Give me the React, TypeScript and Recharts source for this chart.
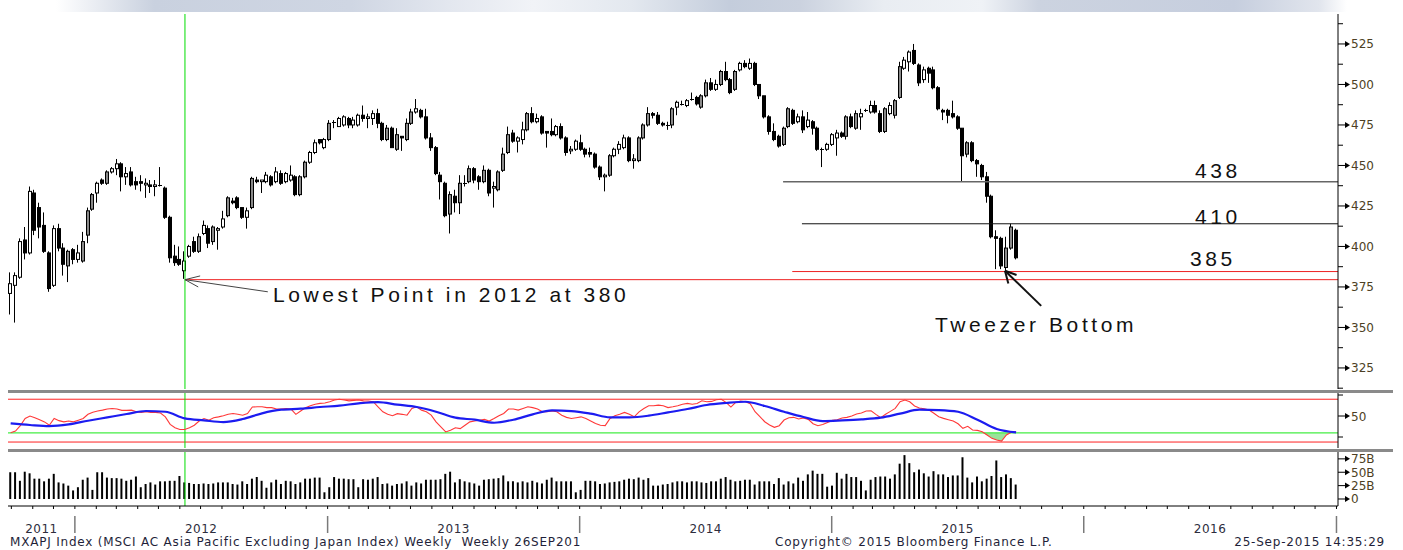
import { Area, Bar, ComposedChart, Line, ReferenceLine, XAxis, YAxis } from "recharts";

// weekly bars, first one is the week ending 30 Sep 2011
const WEEK = 7 * 24 * 3600 * 1000;
const FIRST_WEEK = Date.UTC(2011, 8, 30);
const toIdx = (y: number, m: number, d = 1) => (Date.UTC(y, m, d) - FIRST_WEEK) / WEEK;

const opens = [
  371, 376, 381, 404, 396, 433, 424, 413, 396, 376, 411, 399, 388, 398, 392, 391, 407, 423, 433, 441,
  439, 446, 448, 451, 443, 446, 440, 440, 438, 438, 437, 438, 436, 418, 394, 392, 385, 394, 403, 397,
  408, 411, 403, 410, 412, 419, 428, 430, 424, 418, 424, 441, 440, 440, 443, 440, 445, 440, 441, 443,
  432, 443, 452, 458, 466, 461, 466, 477, 474, 475, 479, 475, 475, 481, 479, 479, 482, 476, 466, 473,
  460, 468, 466, 476, 483, 484, 480, 467, 461, 444, 439, 420, 431, 427, 439, 440, 448, 443, 440, 447,
  436, 435, 447, 458, 470, 465, 466, 472, 482, 477, 480, 471, 471, 469, 474, 467, 459, 460, 464, 460,
  458, 457, 449, 443, 444, 456, 460, 461, 467, 453, 453, 467, 475, 482, 481, 476, 475, 475, 486, 488,
  487, 491, 492, 486, 493, 501, 497, 500, 508, 503, 497, 509, 513, 510, 513, 500, 493, 480, 471, 468,
  463, 474, 484, 477, 480, 474, 477, 473, 460, 460, 463, 467, 470, 468, 480, 473, 480, 484, 483, 487,
  482, 471, 482, 481, 492, 510, 514, 521, 512, 503, 510, 509, 498, 484, 484, 482, 480, 473, 457, 464,
  453, 450, 443, 431, 406, 405, 387, 399, 410,
];
const highs = [
  384, 384, 405, 412, 437, 435, 427, 421, 397, 413, 414, 402, 398, 399, 401, 409, 424, 433, 440, 442,
  447, 449, 454, 452, 449, 449, 443, 444, 442, 441, 441, 449, 437, 419, 401, 400, 397, 401, 406, 408,
  416, 413, 413, 412, 422, 431, 430, 431, 424, 424, 443, 443, 441, 446, 444, 449, 447, 446, 450, 444,
  444, 453, 459, 466, 466, 467, 478, 478, 480, 481, 480, 480, 482, 487, 482, 484, 485, 477, 475, 474,
  473, 468, 479, 485, 491, 485, 485, 470, 462, 446, 440, 434, 435, 444, 444, 450, 449, 444, 450, 448,
  440, 447, 461, 474, 472, 468, 477, 483, 486, 482, 481, 471, 479, 475, 476, 468, 462, 466, 469, 461,
  461, 458, 450, 445, 457, 461, 465, 469, 468, 457, 468, 476, 486, 483, 483, 477, 477, 486, 490, 490,
  491, 495, 493, 494, 503, 504, 503, 509, 514, 504, 509, 514, 515, 516, 514, 500, 493, 481, 476, 469,
  474, 486, 485, 482, 484, 483, 478, 474, 461, 464, 470, 472, 471, 481, 482, 484, 485, 485, 490, 490,
  484, 486, 489, 491, 514, 517, 521, 525, 513, 511, 511, 511, 499, 485, 485, 490, 481, 473, 465, 465,
  454, 451, 446, 432, 410, 406, 406, 414, 411,
];
const lows = [
  358, 353, 380, 392, 395, 407, 405, 396, 372, 375, 397, 382, 378, 389, 390, 390, 402, 422, 427, 438,
  438, 445, 444, 434, 438, 437, 435, 434, 430, 433, 431, 437, 417, 390, 388, 388, 380, 393, 396, 396,
  407, 399, 401, 398, 411, 418, 426, 423, 417, 411, 423, 439, 433, 439, 437, 439, 438, 439, 440, 431,
  431, 442, 451, 457, 463, 460, 465, 473, 474, 474, 473, 473, 474, 477, 473, 475, 473, 465, 465, 461,
  459, 459, 465, 475, 482, 479, 466, 459, 444, 429, 418, 408, 421, 420, 437, 439, 439, 435, 439, 431,
  424, 434, 446, 457, 464, 458, 463, 471, 476, 476, 469, 461, 468, 468, 466, 456, 457, 459, 459, 455,
  455, 448, 441, 434, 443, 455, 457, 460, 452, 448, 452, 466, 474, 479, 475, 474, 472, 473, 481, 487,
  486, 490, 487, 485, 492, 496, 496, 499, 502, 494, 496, 508, 510, 509, 499, 491, 479, 469, 465, 461,
  462, 473, 475, 476, 470, 473, 469, 459, 449, 459, 462, 456, 467, 466, 473, 472, 472, 483, 482, 482,
  470, 470, 481, 479, 491, 509, 508, 512, 499, 501, 501, 497, 484, 478, 476, 479, 472, 440, 455, 452,
  443, 441, 427, 405, 386, 386, 385, 398, 392,
];
const closes = [
  377, 382, 403, 396, 434, 410, 412, 397, 374, 411, 399, 389, 397, 392, 396, 403, 422, 432, 439, 439,
  446, 448, 451, 443, 445, 438, 438, 439, 439, 437, 438, 438, 418, 393, 390, 389, 391, 400, 397, 406,
  413, 402, 412, 411, 417, 430, 427, 424, 418, 422, 442, 440, 441, 444, 438, 446, 439, 445, 444, 432,
  443, 452, 458, 464, 464, 466, 476, 477, 479, 480, 475, 478, 481, 479, 480, 482, 476, 466, 473, 461,
  469, 467, 476, 483, 485, 480, 467, 461, 445, 440, 419, 432, 427, 439, 439, 448, 441, 440, 447, 433,
  437, 446, 457, 469, 465, 467, 472, 482, 477, 479, 470, 470, 469, 474, 467, 458, 460, 465, 460, 457,
  457, 449, 443, 444, 456, 460, 463, 467, 453, 454, 467, 475, 482, 481, 476, 475, 475, 485, 489, 488,
  490, 491, 488, 493, 501, 497, 500, 508, 503, 495, 508, 513, 511, 513, 500, 493, 480, 471, 466, 462,
  473, 485, 476, 480, 472, 478, 473, 460, 460, 463, 469, 470, 468, 480, 474, 482, 482, 484, 487, 483,
  471, 485, 487, 490, 511, 515, 520, 513, 501, 509, 507, 498, 485, 483, 481, 480, 473, 456, 464, 453,
  451, 443, 431, 406, 405, 388, 399, 412, 393,
];

// RSI (red) and its average (blue, read every 4th week)
const rsi = [
  30, 32, 38.5, 47, 50, 48, 45.6, 43, 39, 47, 44.5, 43, 44, 43, 45, 47, 52, 54.5, 56, 57,
  58.3, 59, 58.3, 56.7, 56.7, 57, 55, 54.3, 55, 54.3, 54.3, 53.5, 49, 40, 36, 34, 34, 36, 39, 44,
  47, 45, 48, 49, 50.4, 52, 53, 52, 51, 53, 60.7, 61, 61, 60, 60, 58.3, 58.3, 59, 58.3, 52,
  56, 60, 62.3, 64, 65, 65.5, 67, 69, 70, 69, 68, 68.6, 69, 68, 67.8, 67, 61, 55, 52, 50.4,
  52.8, 52, 51, 59, 61, 57, 55, 51, 43, 37, 31, 33, 36, 35, 39, 43, 44, 45, 46, 44,
  47, 50.4, 53, 58.3, 58.3, 57, 59, 61, 60, 58.3, 55, 55, 56, 55, 51, 48.4, 47, 48, 49, 47,
  44, 41, 39, 38.5, 47, 50.4, 52, 54.3, 52, 49, 55, 59, 62.3, 62.3, 63, 62.3, 60, 61, 62.3, 64,
  65, 64, 65, 68.2, 67, 67.4, 69.4, 70, 66.3, 60.7, 66.3, 67.8, 67, 64.7, 55.1, 49.2, 43.2, 39.3, 36.5, 38.5,
  45.2, 48, 48.4, 46.4, 47.6, 46, 40.8, 38.5, 40, 42.4, 44.8, 45.6, 47.6, 48.4, 50, 52.4, 53.5, 56, 56.3, 52,
  48, 52, 55.5, 59.1, 67, 69, 67, 61.9, 59.5, 58.7, 57.1, 53.2, 49.2, 47.2, 45.6, 44, 40.8, 35.3, 37.7, 33.3,
  32.9, 31.3, 27.4, 23.4, 21.4, 20.2, 27.4, 30.5, 31.3,
];
const rsiAvg = [
  41.2, 39.3, 38, 40, 44.4, 48.4, 52.4, 56, 55.1, 47.2, 44.8, 42.8, 46.4, 53.2, 57.5, 58.7, 60.7, 62.3,
  65.1, 66.6, 63.5, 60.7, 55.1, 48, 45.6, 42, 45.6, 52, 56.7, 55.9, 52.8, 48.4, 48.4, 50.4, 54.3, 58.3,
  63.1, 65.5, 67, 61.9, 55.1, 48.8, 44, 44.8, 46, 48, 52.8, 57.5, 57.1, 55.1, 45.6, 34.5, 30.5,
];

// volume, billions
const volumes = [
  50, 50, 34, 51, 48, 38, 38, 33, 38, 47, 31, 29, 25, 16, 22, 36, 40, 17, 50, 50,
  40, 39, 39, 38, 34, 36, 42, 22, 28, 31, 27, 33, 33, 34, 34, 43, 31, 30, 28, 28,
  29, 28, 29, 31, 31, 31, 28, 27, 33, 28, 38, 41, 34, 21, 31, 36, 28, 34, 33, 28,
  31, 38, 38, 40, 40, 12.5, 22, 41, 38, 38, 37, 37, 22, 37, 36, 38, 41, 28, 29, 25,
  28, 29, 33, 25, 31, 29, 36, 36, 36, 37, 47, 51, 31, 37, 33, 31, 29, 25, 36, 37,
  38, 39, 44, 33, 33, 31, 33, 31, 34, 31, 29, 36, 40, 33, 33, 33, 33, 12.5, 17, 34,
  34, 33, 28, 29, 31, 32, 33, 36, 38, 37, 40, 36, 39, 25, 25, 27, 28, 31, 33, 33,
  31, 33, 33, 31, 30, 33, 33, 38, 41, 36, 33, 34, 36, 36, 27, 33, 33, 33, 28, 39,
  27, 33, 29, 40, 34, 46, 53, 47, 47, 23, 25, 49, 38, 47, 41, 41, 34, 16, 36, 41,
  42, 42, 38, 46, 66, 82, 67, 50, 55, 48, 42, 52, 46, 46, 41, 44, 44, 78, 40, 31,
  42, 33, 38, 43, 72, 41, 46, 39, 27,
];

const yearLabels = ["2011", "2012", "2013", "2014", "2015", "2016"];
const priceTicks = [312.5, 325, 337.5, 350, 362.5, 375, 387.5, 400, 412.5, 425, 437.5, 450, 462.5, 475, 487.5, 500, 512.5, 525, 537.5];
const rsiTicks = [25, 50, 75];
const volumeTicks = [0, 25, 50, 75];

const W = 1403;
const X_DOMAIN: [number, number] = [-0.55, 274.6];
const LOW_IDX = 36.06;
const FONT = "'DejaVu Sans', Verdana, sans-serif";
const NOTE_FONT = "'Liberation Sans', Arial, sans-serif";
const TICK_FILL = "#4d3f24";

const candles = opens.map((o, i) => ({
  i,
  o,
  h: highs[i],
  l: lows[i],
  c: closes[i],
  range: [lows[i], highs[i]],
}));

const rsiRows = rsi.map((v, i) => ({
  i,
  rsi: v,
  avg: i % 4 === 0 ? rsiAvg[i / 4] : null,
  band: [Math.min(v, 30), 30],
}));

const volumeRows = volumes.map((v, i) => ({ i, vol: v }));

// x axis: month ticks, year separators, year labels centred in their year
const monthTicks: number[] = [];
const janTicks: number[] = [];
for (let y = 2011; y <= 2017; y++) {
  for (let m = 0; m < 12; m++) {
    const t = toIdx(y, m);
    if (t < X_DOMAIN[0] || t > X_DOMAIN[1]) continue;
    monthTicks.push(t);
    if (m === 0) janTicks.push(t);
  }
}
const yearCenters = yearLabels.map((label) => {
  const y = Number(label);
  const a = Math.max(toIdx(y, 0), X_DOMAIN[0]);
  const b = Math.min(toIdx(y + 1, 0), X_DOMAIN[1]);
  return { pos: (a + b) / 2, label };
});
const xTicks = [...monthTicks, ...yearCenters.map((c) => c.pos)].sort((a, b) => a - b);

function renderCandle(props: any) {
  const { x, y, width, height, payload } = props;
  if (!payload) return <g />;
  const { o, h, l, c } = payload;
  const k = Math.abs(height) / Math.max(h - l, 0.001);
  const yTop = Math.min(y, y + height);
  const top = yTop + (h - Math.max(o, c)) * k;
  const bot = yTop + (h - Math.min(o, c)) * k;
  const left = Math.round(x + width / 2) - 2;
  const up = c >= o;
  const body = c - o;
  const fill = !up ? "#000" : body > 6 && body < 20 ? "#8a8a8a" : "#fff";
  return (
    <g>
      <line x1={left + 1.5} x2={left + 1.5} y1={yTop} y2={yTop + Math.abs(height)} stroke="#000" strokeWidth={1} />
      {bot - top < 1.2 ? (
        <line x1={left} x2={left + 4} y1={Math.round(top) + 0.5} y2={Math.round(top) + 0.5} stroke="#000" />
      ) : (
        <rect x={left + 0.5} y={top} width={3} height={bot - top} fill={fill} stroke="#000" strokeWidth={1} />
      )}
    </g>
  );
}

function axisTick(labelFor: (v: number) => string | null) {
  return (props: any) => {
    const { x, y, payload } = props;
    const text = labelFor(payload.value);
    if (text === null) {
      return <line x1={x} x2={x + 5} y1={y} y2={y} stroke="#000" />;
    }
    return (
      <g>
        <line x1={x} x2={x + 8} y1={y} y2={y} stroke="#000" />
        <path d={`M${x + 7},${y - 3}L${x + 12},${y}L${x + 7},${y + 3}Z`} fill="#000" />
        <text x={x + 13} y={y + 4.5} fontFamily={FONT} fontSize={12} fill={TICK_FILL}>
          {text}
        </text>
      </g>
    );
  };
}

const priceTick = axisTick((v) => (v % 25 === 0 ? String(v) : null));
const rsiTick = axisTick((v) => (v === 50 ? "50" : null));
const volumeTick = axisTick((v) => (v === 0 ? "0" : `${v}B`));

function renderXTick(props: any) {
  const { x, y, payload } = props;
  const v = payload.value;
  const year = yearCenters.find((c) => Math.abs(c.pos - v) < 1e-6);
  if (year) {
    return (
      <text x={x} y={y + 26.5} textAnchor="middle" fontFamily={FONT} fontSize={12} letterSpacing={0.5} fill="#2d2d3d">
        {year.label}
      </text>
    );
  }
  const isJan = janTicks.some((j) => Math.abs(j - v) < 1e-6);
  return (
    <g>
      <line x1={x} x2={x} y1={y} y2={y + 3} stroke="#000" />
      {isJan && <line x1={x} x2={x} y1={y + 10} y2={y + 27} stroke="#7a7a7a" strokeWidth={1.5} />}
    </g>
  );
}

// annotation segments in (week index, price) units
const lowArrow = [
  [{ x: LOW_IDX, y: 379.5 }, { x: 53.2, y: 372 }],
  [{ x: LOW_IDX, y: 379.5 }, { x: 39.2, y: 381.8 }],
  [{ x: LOW_IDX, y: 379.5 }, { x: 38.8, y: 375 }],
];
const tweezerArrow = [
  [{ x: 205.7, y: 385 }, { x: 213.2, y: 363.3 }],
  [{ x: 205.7, y: 385 }, { x: 206.4, y: 377.1 }],
  [{ x: 205.7, y: 385 }, { x: 208.1, y: 382.4 }],
];

const note = (left: number, top: number, text: string) => (
  <div
    style={{
      position: "absolute",
      left,
      top,
      fontFamily: NOTE_FONT,
      fontSize: 21,
      lineHeight: "21px",
      letterSpacing: 3.6,
      color: "#111",
      whiteSpace: "nowrap",
    }}
  >
    {text}
  </div>
);

const footer = (style: any, text: string) => (
  <div
    style={{
      position: "absolute",
      top: 535,
      fontFamily: FONT,
      fontSize: 12,
      lineHeight: "14px",
      letterSpacing: 0.8,
      color: "#1f1f3a",
      whiteSpace: "pre",
      ...style,
    }}
  >
    {text}
  </div>
);

export default function App() {
  const yAxisCommon = {
    orientation: "right" as const,
    width: 55,
    allowDataOverflow: true,
    interval: 0,
    tickLine: false,
    tickSize: 0,
    tickMargin: 0,
    axisLine: { stroke: "#000" },
  };
  return (
    <div style={{ position: "absolute", left: 0, top: 0, width: W, height: 550, background: "#fff", overflow: "hidden" }}>
      <div
        style={{
          position: "absolute",
          left: 0,
          top: 0,
          width: W,
          height: 12,
          background:
            "linear-gradient(90deg, #fff 0%, #fff 4%, #c9d1df 11%, #cfd6e3 25%, #e3e7ef 32%, #f1f3f7 38%, #e3e8ef 45%, #c4cddc 52%, #cbd2df 57%, #e9edf2 63%, #eff2f6 70%, #ccd3e0 74%, #c6cede 88%, #e1e5ed 94%, #fff 96%)",
        }}
      />

      <div style={{ position: "absolute", left: 0, top: 0 }}>
        <ComposedChart width={W} height={389} data={candles} margin={{ top: 14, right: 10, bottom: 0, left: 8 }}>
          <XAxis dataKey="i" type="number" domain={X_DOMAIN} allowDataOverflow hide />
          <YAxis {...yAxisCommon} domain={[312, 543.5]} ticks={priceTicks} tick={priceTick} />
          <ReferenceLine x={LOW_IDX} stroke="#00dd00" strokeWidth={1} />
          <ReferenceLine segment={[{ x: 159.8, y: 440 }, { x: X_DOMAIN[1], y: 440 }]} stroke="#666" strokeWidth={1.5} />
          <ReferenceLine segment={[{ x: 163.7, y: 414 }, { x: X_DOMAIN[1], y: 414 }]} stroke="#111" strokeWidth={1} />
          <ReferenceLine segment={[{ x: 161.7, y: 384.5 }, { x: X_DOMAIN[1], y: 384.5 }]} stroke="#ee2222" strokeWidth={1} />
          <ReferenceLine segment={[{ x: LOW_IDX, y: 379.5 }, { x: X_DOMAIN[1], y: 379.5 }]} stroke="#ee2222" strokeWidth={1} />
          <Bar dataKey="range" shape={renderCandle} barSize={4} isAnimationActive={false} />
          {lowArrow.map((s, k) => (
            <ReferenceLine key={`la${k}`} segment={s} stroke="#444" strokeWidth={1} />
          ))}
          {tweezerArrow.map((s, k) => (
            <ReferenceLine key={`ta${k}`} segment={s} stroke="#111" strokeWidth={2} />
          ))}
        </ComposedChart>
      </div>

      <div style={{ position: "absolute", left: 0, top: 392 }}>
        <ComposedChart width={W} height={56} data={rsiRows} margin={{ top: 0, right: 10, bottom: 0, left: 8 }}>
          <XAxis dataKey="i" type="number" domain={X_DOMAIN} allowDataOverflow hide />
          <YAxis {...yAxisCommon} domain={[11.9, 78.6]} ticks={rsiTicks} tick={rsiTick} />
          <Area dataKey="band" type="linear" fill="#8fe08f" fillOpacity={0.9} stroke="none" isAnimationActive={false} />
          <ReferenceLine y={70} stroke="#ff2020" strokeWidth={1} />
          <ReferenceLine y={19} stroke="#ff2020" strokeWidth={1} />
          <ReferenceLine y={30} stroke="#44ee44" strokeWidth={1.2} />
          <ReferenceLine x={LOW_IDX} stroke="#00dd00" strokeWidth={1} />
          <Line dataKey="rsi" type="linear" stroke="#ff3838" strokeWidth={1.1} dot={false} isAnimationActive={false} />
          <Line dataKey="avg" type="monotone" connectNulls stroke="#1c1cf0" strokeWidth={2.2} dot={false} isAnimationActive={false} />
        </ComposedChart>
      </div>

      <div style={{ position: "absolute", left: 0, top: 450 }}>
        <ComposedChart width={W} height={100} data={volumeRows} margin={{ top: 1, right: 10, bottom: 0, left: 8 }}>
          <XAxis
            dataKey="i"
            type="number"
            domain={X_DOMAIN}
            allowDataOverflow
            ticks={xTicks}
            interval={0}
            height={44}
            tickLine={false}
            tickSize={0}
            tickMargin={0}
            axisLine={{ stroke: "#000" }}
            tick={renderXTick}
          />
          <YAxis {...yAxisCommon} domain={[-13.1, 89.7]} ticks={volumeTicks} tick={volumeTick} />
          <ReferenceLine x={LOW_IDX} stroke="#00dd00" strokeWidth={1} />
          <Bar dataKey="vol" fill="#000" barSize={2} isAnimationActive={false} />
        </ComposedChart>
      </div>

      <div style={{ position: "absolute", left: 8, top: 389.5, width: 1385, height: 3, background: "#8a8a8a" }} />
      <div style={{ position: "absolute", left: 8, top: 448.5, width: 1385, height: 3, background: "#8a8a8a" }} />

      {note(273, 284, "Lowest Point in 2012 at 380")}
      {note(935, 314, "Tweezer Bottom")}
      {note(1195, 160, "438")}
      {note(1195, 206, "410")}
      {note(1190, 248, "385")}

      {footer({ left: 10 }, "MXAPJ Index (MSCI AC Asia Pacific Excluding Japan Index) Weekly  Weekly 26SEP201")}
      {footer({ left: 775 }, "Copyright\u00a9 2015 Bloomberg Finance L.P.")}
      {footer({ right: 18 }, "25-Sep-2015 14:35:29")}
    </div>
  );
}
